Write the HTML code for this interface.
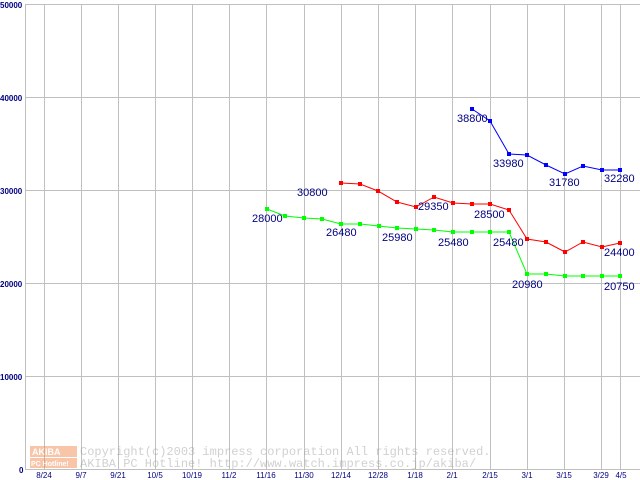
<!DOCTYPE html>
<html><head><meta charset="utf-8"><style>
html,body{margin:0;padding:0;background:#fff;}
svg{display:block;}
text{font-family:"Liberation Sans",sans-serif;}
text.m{font-family:"Liberation Mono",monospace;}
</style></head><body>
<svg width="640" height="480" viewBox="0 0 640 480" xmlns="http://www.w3.org/2000/svg">
<rect width="640" height="480" fill="#fff"/>
<g stroke="#c0c0c0" stroke-width="1">
<line x1="25.5" y1="4" x2="25.5" y2="470"/>
<line x1="25" y1="4.5" x2="640" y2="4.5"/>
<line x1="25" y1="97.5" x2="640" y2="97.5"/>
<line x1="25" y1="190.5" x2="640" y2="190.5"/>
<line x1="25" y1="283.5" x2="640" y2="283.5"/>
<line x1="25" y1="376.5" x2="640" y2="376.5"/>
<line x1="25" y1="469.5" x2="640" y2="469.5"/>
<line x1="44.5" y1="4" x2="44.5" y2="470"/>
<line x1="81.5" y1="4" x2="81.5" y2="470"/>
<line x1="118.5" y1="4" x2="118.5" y2="470"/>
<line x1="155.5" y1="4" x2="155.5" y2="470"/>
<line x1="192.5" y1="4" x2="192.5" y2="470"/>
<line x1="229.5" y1="4" x2="229.5" y2="470"/>
<line x1="266.5" y1="4" x2="266.5" y2="470"/>
<line x1="304.5" y1="4" x2="304.5" y2="470"/>
<line x1="341.5" y1="4" x2="341.5" y2="470"/>
<line x1="378.5" y1="4" x2="378.5" y2="470"/>
<line x1="415.5" y1="4" x2="415.5" y2="470"/>
<line x1="452.5" y1="4" x2="452.5" y2="470"/>
<line x1="490.5" y1="4" x2="490.5" y2="470"/>
<line x1="527.5" y1="4" x2="527.5" y2="470"/>
<line x1="564.5" y1="4" x2="564.5" y2="470"/>
<line x1="601.5" y1="4" x2="601.5" y2="470"/>
<line x1="620.5" y1="4" x2="620.5" y2="470"/>
</g>
<g font-size="8" font-weight="bold" fill="#000080">
<text x="0" y="8">50000</text>
<text x="0" y="101">40000</text>
<text x="0" y="194">30000</text>
<text x="0" y="287">20000</text>
<text x="0" y="380">10000</text>
<text x="19" y="473">0</text>
</g>
<g font-size="8" fill="#000080" text-anchor="middle">
<text x="44" y="478">8/24</text><text x="81" y="478">9/7</text><text x="118" y="478">9/21</text>
<text x="155" y="478">10/5</text><text x="192" y="478">10/19</text><text x="229" y="478">11/2</text>
<text x="266" y="478">11/16</text><text x="304" y="478">11/30</text><text x="341" y="478">12/14</text>
<text x="378" y="478">12/28</text><text x="415" y="478">1/18</text><text x="452" y="478">2/1</text>
<text x="490" y="478">2/15</text><text x="527" y="478">3/1</text><text x="564" y="478">3/15</text>
<text x="601" y="478">3/29</text><text x="621" y="478">4/5</text>
</g>
<g opacity="0.45">
<rect x="30" y="446" width="47" height="11" fill="#f08040"/>
<rect x="30" y="458" width="47" height="10" fill="#f08040"/>
<text x="32" y="455" font-size="9" fill="#fff" font-weight="bold">AKIBA</text>
<text x="31" y="466" font-size="7" fill="#fff" font-weight="bold">PC Hotline!</text>
<text class="m" x="80" y="455" font-size="12" fill="#999">Copyright(c)2003 impress corporation All rights reserved.</text>
<text class="m" x="80" y="467" font-size="12" fill="#999">AKIBA PC Hotline!  http://www.watch.impress.co.jp/akiba/</text>
</g>
<polyline fill="none" stroke="#00ff00" points="267,209 285,216 304,218 322,219 341,224 360,224 379,226 397,228 416,229 434,230 453,232 472,232 490,232 509,232 527,274 546,274 565,276 583,276 602,276 620,276"/>
<g fill="#00ff00">
<rect x="265" y="207" width="4" height="4"/><rect x="283" y="214" width="4" height="4"/><rect x="302" y="216" width="4" height="4"/><rect x="320" y="217" width="4" height="4"/><rect x="339" y="222" width="4" height="4"/><rect x="358" y="222" width="4" height="4"/><rect x="377" y="224" width="4" height="4"/><rect x="395" y="226" width="4" height="4"/><rect x="414" y="227" width="4" height="4"/><rect x="432" y="228" width="4" height="4"/><rect x="451" y="230" width="4" height="4"/><rect x="470" y="230" width="4" height="4"/><rect x="488" y="230" width="4" height="4"/><rect x="507" y="230" width="4" height="4"/><rect x="525" y="272" width="4" height="4"/><rect x="544" y="272" width="4" height="4"/><rect x="563" y="274" width="4" height="4"/><rect x="581" y="274" width="4" height="4"/><rect x="600" y="274" width="4" height="4"/><rect x="618" y="274" width="4" height="4"/>
</g>
<polyline fill="none" stroke="#ff0000" points="341,183 360,184 378,191 397,202 416,207 434,197 453,203 472,204 490,204 509,210 527,239 546,242 565,252 583,242 602,247 620,243"/>
<g fill="#ff0000">
<rect x="339" y="181" width="4" height="4"/><rect x="358" y="182" width="4" height="4"/><rect x="376" y="189" width="4" height="4"/><rect x="395" y="200" width="4" height="4"/><rect x="414" y="205" width="4" height="4"/><rect x="432" y="195" width="4" height="4"/><rect x="451" y="201" width="4" height="4"/><rect x="470" y="202" width="4" height="4"/><rect x="488" y="202" width="4" height="4"/><rect x="507" y="208" width="4" height="4"/><rect x="525" y="237" width="4" height="4"/><rect x="544" y="240" width="4" height="4"/><rect x="563" y="250" width="4" height="4"/><rect x="581" y="240" width="4" height="4"/><rect x="600" y="245" width="4" height="4"/><rect x="618" y="241" width="4" height="4"/>
</g>
<polyline fill="none" stroke="#0000ff" points="472,109 490,121 509,154 527,155 546,165 565,174 583,166 602,170 620,170"/>
<g fill="#0000ff">
<rect x="470" y="107" width="4" height="4"/><rect x="488" y="119" width="4" height="4"/><rect x="507" y="152" width="4" height="4"/><rect x="525" y="153" width="4" height="4"/><rect x="544" y="163" width="4" height="4"/><rect x="563" y="172" width="4" height="4"/><rect x="581" y="164" width="4" height="4"/><rect x="600" y="168" width="4" height="4"/><rect x="618" y="168" width="4" height="4"/>
</g>
<g font-size="11" fill="#000080">
<text x="252" y="222">28000</text>
<text x="326" y="236">26480</text>
<text x="382" y="241">25980</text>
<text x="438" y="246">25480</text>
<text x="493" y="246">25480</text>
<text x="512" y="288">20980</text>
<text x="604" y="290">20750</text>
<text x="297" y="196">30800</text>
<text x="418" y="210">29350</text>
<text x="474" y="218">28500</text>
<text x="604" y="256">24400</text>
<text x="457" y="122">38800</text>
<text x="493" y="167">33980</text>
<text x="549" y="186">31780</text>
<text x="604" y="182">32280</text>
</g>
</svg>
</body></html>
